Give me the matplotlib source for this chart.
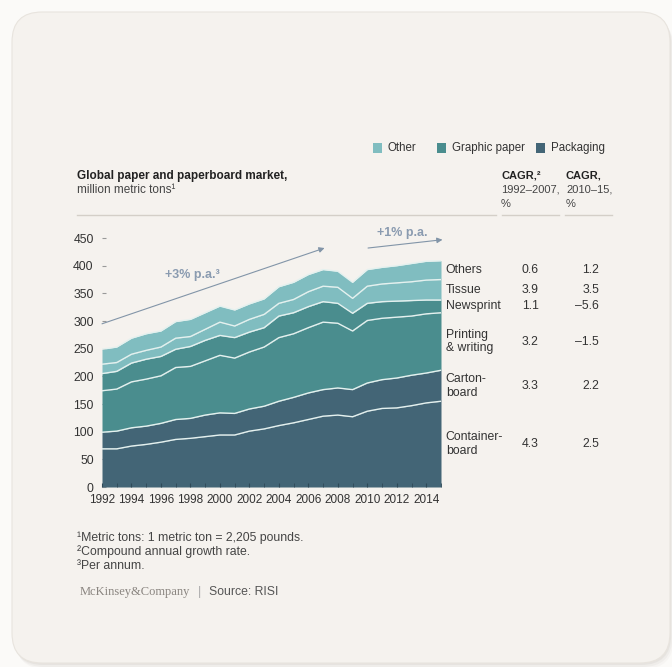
import matplotlib
matplotlib.use('Agg')
import matplotlib.pyplot as plt
from matplotlib.patches import FancyBboxPatch, Rectangle
import numpy as np

plt.rcParams['font.family'] = ['Liberation Sans', 'DejaVu Sans']

# million metric tons, stacked bottom to top
years = np.arange(1992, 2016)
containerboard = [69, 69, 74, 77, 81, 86, 88, 91, 94, 94, 101, 105,
                  111, 116, 122, 128, 130, 127, 137, 142, 143, 147, 152, 155]
cartonboard = [30, 32, 33, 33, 34, 36, 36, 39, 40, 39, 40, 41,
               44, 46, 48, 48, 49, 49, 51, 52, 54, 55, 54, 56]
printing_writing = [75, 76, 83, 85, 86, 94, 94, 98, 104, 100, 103, 107,
                    115, 115, 118, 122, 117, 106, 113, 111, 110, 107, 107, 104]
newsprint = [31, 32, 34, 36, 35, 33, 36, 37, 36, 37, 36, 35,
             39, 38, 38, 37, 36, 32, 31, 30, 29, 28, 25, 23]
tissue = [17, 16, 16, 16, 17, 20, 18, 20, 24, 21, 23, 24,
          23, 24, 27, 28, 29, 27, 31, 32, 33, 34, 36, 37]
others = [27, 28, 29, 30, 29, 30, 31, 30, 29, 29, 28, 28,
          30, 31, 31, 30, 29, 29, 30, 30, 31, 33, 34, 34]

segments = ['Container-\nboard', 'Carton-\nboard', 'Printing\n& writing',
            'Newsprint', 'Tissue', 'Others']
groups = ['Packaging', 'Packaging', 'Graphic paper', 'Graphic paper', 'Other', 'Other']
cagr_1992_2007 = ['4.3', '3.3', '3.2', '1.1', '3.9', '0.6']
cagr_2010_15 = ['2.5', '2.2', '–1.5', '–5.6', '3.5', '1.2']

group_colors = {'Other': '#80bdc0', 'Graphic paper': '#4a8d8e', 'Packaging': '#436576'}
legend_order = ['Other', 'Graphic paper', 'Packaging']

FS = 8.8
TXT = '#333333'
W, H = 672, 667
fig = plt.figure(figsize=(W / 100, H / 100), dpi=100)
fig.patch.set_facecolor('#fbfaf8')

# pixel canvas for the card, headers and footnotes
bg = fig.add_axes([0, 0, 1, 1], zorder=-1)
bg.set_xlim(0, W)
bg.set_ylim(H, 0)
bg.axis('off')
for off, a in [(6, 0.05), (4, 0.07), (2, 0.10)]:
    bg.add_patch(FancyBboxPatch((12 + off * 0.6, 12 + off), 658, 651,
                                boxstyle='round,pad=0,rounding_size=30',
                                fc='#9a948c', ec='none', alpha=a))
bg.add_patch(FancyBboxPatch((12, 12), 658, 651, boxstyle='round,pad=0,rounding_size=30',
                            fc='#f5f2ee', ec='#e8e4de', lw=0.8))

# legend
lx = [373, 437, 536]
for x, name in zip(lx, legend_order):
    bg.add_patch(Rectangle((x, 143), 9, 10, fc=group_colors[name], ec='none'))
    bg.text(x + 15, 148, name, fontsize=8.3, color=TXT, va='center')

# headers
HS = 8.0
bg.text(77, 176, 'Global paper and paperboard market,', fontsize=8.5,
        fontweight='bold', color='#222222', va='center')
bg.text(77, 190, 'million metric tons¹', fontsize=8.5, color='#444444', va='center')
bg.text(501, 176, 'CAGR,²', fontsize=HS, fontweight='bold', color='#222222', va='center')
bg.text(501, 190, '1992–2007,', fontsize=HS, color='#444444', va='center')
bg.text(501, 204, '%', fontsize=HS, color='#444444', va='center')
bg.text(566, 176, 'CAGR,', fontsize=HS, fontweight='bold', color='#222222', va='center')
bg.text(566, 190, '2010–15,', fontsize=HS, color='#444444', va='center')
bg.text(566, 204, '%', fontsize=HS, color='#444444', va='center')
for x0, x1 in [(77, 496), (502, 559), (565, 612)]:
    bg.plot([x0, x1], [215, 215], color='#d4cfc8', lw=1)

# footnotes
notes = ['¹Metric tons: 1 metric ton = 2,205 pounds.',
         '²Compound annual growth rate.',
         '³Per annum.']
for i, n in enumerate(notes):
    bg.text(77, 538 + 14 * i, n, fontsize=FS, color='#444444', va='center')
bg.text(80, 592, 'McKinsey&Company', fontsize=9, family='Liberation Serif',
        color='#8a8580', va='center')
bg.text(198, 592, '|', fontsize=FS, color='#aaaaaa', va='center')
bg.text(209, 592, 'Source: RISI', fontsize=FS, color='#555555', va='center')

# stacked area chart
ax = fig.add_axes([102 / W, 1 - 487 / H, 339 / W, 260 / H])
ax.set_facecolor('none')
series = [containerboard, cartonboard, printing_writing, newsprint, tissue, others]
bottom = np.zeros(len(years))
mids = []
for vals, grp in zip(series, groups):
    top = bottom + np.array(vals)
    ax.fill_between(years, bottom, top, color=group_colors[grp], lw=0, zorder=3)
    ax.plot(years, top, color='#e4f1ef', lw=1.0, zorder=3.5)
    mids.append((bottom[-1] + top[-1]) / 2)
    bottom = top

ax.set_xlim(1992, 2015)
ax.set_ylim(0, 470)
for s in ax.spines.values():
    s.set_visible(False)

ax.set_yticks(np.arange(0, 451, 50))
ax.tick_params(axis='y', direction='in', length=3, color='#999999', labelsize=FS,
               labelcolor=TXT, pad=6)
ax.set_xticks(np.arange(1992, 2015, 2))
ax.set_xticks(np.arange(1993, 2016, 2), minor=True)
ax.tick_params(axis='x', which='both', direction='in', length=3, color='#2f4957',
               labelsize=8.5, labelcolor=TXT, pad=5)
ax.xaxis.set_zorder(4)
ax.yaxis.set_zorder(0.5)

# growth-rate arrows
arrow_col = '#8295a8'
ax.annotate('', xy=(2007.1, 432), xytext=(1992, 295), annotation_clip=False,
            arrowprops=dict(arrowstyle='-|>', color=arrow_col, lw=0.8,
                            mutation_scale=8, shrinkA=0, shrinkB=0))
ax.text(1998.1, 383, '+3% p.a.³', fontsize=9, fontweight='bold', color='#8a9bb0',
        ha='center', va='center')
ax.annotate('', xy=(2015.1, 447), xytext=(2010.05, 432), annotation_clip=False,
            arrowprops=dict(arrowstyle='-|>', color=arrow_col, lw=0.8,
                            mutation_scale=8, shrinkA=0, shrinkB=0))
ax.text(2012.35, 459, '+1% p.a.', fontsize=9, fontweight='bold', color='#8a9bb0',
        ha='center', va='center')

# segment labels and CAGR columns
tr = ax.get_yaxis_transform()
for name, m, c1, c2 in zip(segments, mids, cagr_1992_2007, cagr_2010_15):
    ax.text(1.014, m, name, transform=tr, fontsize=FS, color=TXT,
            va='center', linespacing=1.2, clip_on=False)
    ax.text(1.263, m, c1, transform=tr, fontsize=FS, color=TXT,
            ha='center', va='center', clip_on=False)
    ax.text(1.466, m, c2, transform=tr, fontsize=FS, color=TXT,
            ha='right', va='center', clip_on=False)

fig.savefig('out.png', dpi=100, facecolor=fig.get_facecolor())
